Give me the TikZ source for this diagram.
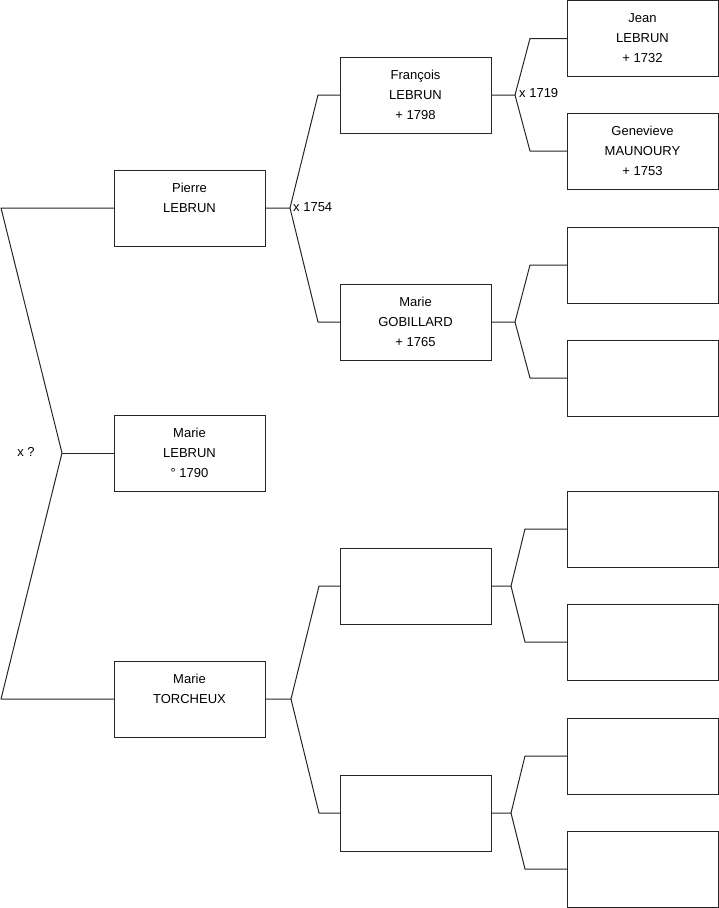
\documentclass[tikz,border=0pt]{standalone}
\usepackage{fontspec}
\setmainfont{Liberation Sans}
\newcommand{\pline}[3]{\strut #1\\\strut #2\\\strut #3}
\tikzset{
  person/.style={draw=black!85, line width=1pt, minimum width=151pt, minimum height=76pt,
    inner sep=0pt, outer sep=0pt, align=center, font=\fontsize{13}{20}\selectfont, anchor=north west},
  link/.style={draw=black!85, line width=1pt, line join=round},
  lbl/.style={font=\fontsize{13}{20}\selectfont, inner sep=0pt}
}
\begin{document}
\begin{tikzpicture}[x=1pt,y=-1pt]
\useasboundingbox (0,0) rectangle (719,908);
% level 0
\node[person] (pierre) at (114,170) {\pline{Pierre}{LEBRUN}{}};
\node[person] (marie) at (114,415) {\pline{Marie}{LEBRUN}{° 1790}};
\node[person] (torcheux) at (114,661) {\pline{Marie}{TORCHEUX}{}};
% level 1
\node[person] (francois) at (340,57) {\pline{François}{LEBRUN}{+ 1798}};
\node[person] (gobillard) at (340,284) {\pline{Marie}{GOBILLARD}{+ 1765}};
\node[person] (e1) at (340,548) {};
\node[person] (e2) at (340,775) {};
% level 2
\node[person] (g1) at (567,0.5) {\pline{Jean}{LEBRUN}{+ 1732}};
\node[person] (g2) at (567,113) {\pline{Genevieve}{MAUNOURY}{+ 1753}};
\node[person] (g3) at (567,227) {};
\node[person] (g4) at (567,340) {};
\node[person] (g5) at (567,491) {};
\node[person] (g6) at (567,604) {};
\node[person] (g7) at (567,718) {};
\node[person] (g8) at (567,831) {};
% bracket coordinates
\coordinate (l0) at (1,0);
\coordinate (v0) at (62,453);
\coordinate (v1) at (290,208);
\coordinate (b1) at (318,0);
\coordinate (v2) at (291,699);
\coordinate (b2) at (319,0);
\coordinate (vf) at (515,95);
\coordinate (vg) at (515,322);
\coordinate (bu) at (530,0);
\coordinate (ve1) at (511,586);
\coordinate (ve2) at (511,813);
\coordinate (bl) at (525,0);
% connectors
\draw[link] (pierre.west) -- (pierre.west -| l0) -- (v0) -- (torcheux.west -| l0) -- (torcheux.west);
\draw[link] (v0) -- (marie.west);
\draw[link] (pierre.east) -- (v1) -- (francois.west -| b1) -- (francois.west);
\draw[link] (v1) -- (gobillard.west -| b1) -- (gobillard.west);
\draw[link] (torcheux.east) -- (v2) -- (e1.west -| b2) -- (e1.west);
\draw[link] (v2) -- (e2.west -| b2) -- (e2.west);
\draw[link] (francois.east) -- (vf) -- (g1.west -| bu) -- (g1.west);
\draw[link] (vf) -- (g2.west -| bu) -- (g2.west);
\draw[link] (gobillard.east) -- (vg) -- (g3.west -| bu) -- (g3.west);
\draw[link] (vg) -- (g4.west -| bu) -- (g4.west);
\draw[link] (e1.east) -- (ve1) -- (g5.west -| bl) -- (g5.west);
\draw[link] (ve1) -- (g6.west -| bl) -- (g6.west);
\draw[link] (e2.east) -- (ve2) -- (g7.west -| bl) -- (g7.west);
\draw[link] (ve2) -- (g8.west -| bl) -- (g8.west);
% labels
\node[lbl] (mq) at (26,452) {x ?};
\node[lbl, anchor=west] (m1754) at (293,207) {x 1754};
\node[lbl, anchor=west] (m1719) at (519,93) {x 1719};
\end{tikzpicture}
\end{document}
